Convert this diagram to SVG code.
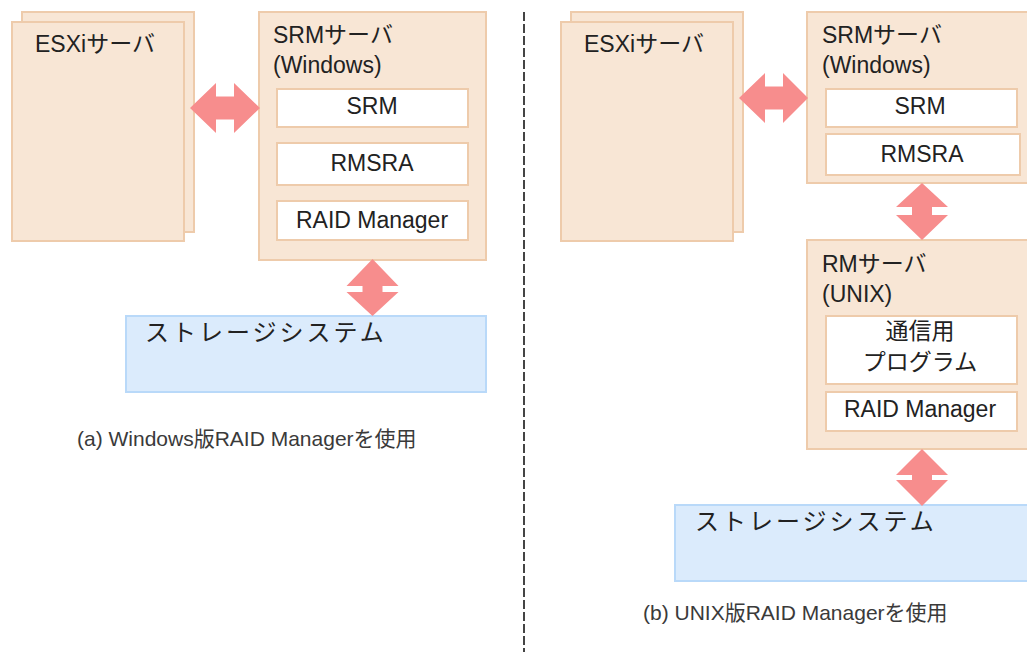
<svg xmlns="http://www.w3.org/2000/svg" width="1027" height="652" viewBox="0 0 1027 652">
<style>
.srv{fill:#f8e6d5;stroke:#eecbab;stroke-width:2}
.inner{fill:#ffffff;stroke:#eecbab;stroke-width:2}
.stor{fill:#dbebfc;stroke:#b9d9f9;stroke-width:2}
.arrow{fill:#f78d8d;stroke:none}
.t{font-family:"Liberation Sans","Noto Sans CJK JP",sans-serif;font-size:23px;fill:#222222}
.c{text-anchor:middle}
.st{font-family:"Liberation Sans","Noto Sans CJK JP",sans-serif;font-size:24px;letter-spacing:3px;fill:#222222}
.cap{font-family:"Liberation Sans","Noto Sans CJK JP",sans-serif;font-size:21px;fill:#3a3a3a}
.div{stroke:#444444;stroke-width:2;stroke-dasharray:9 3;fill:none}
</style>
<rect width="1027" height="652" fill="#ffffff"/>
<line class="div" x1="524" y1="12" x2="524" y2="652"/>

<!-- (a) -->
<g id="a-esxi">
<rect class="srv" x="22" y="12" width="172" height="220"/>
<rect class="srv" x="12" y="22" width="172" height="219"/>
<text class="t" x="35" y="52">ESXiサーバ</text>
</g>
<g id="a-srm-server">
<rect class="srv" x="259" y="12" width="227" height="248"/>
<text class="t" x="273" y="43">SRMサーバ</text>
<text class="t" x="273" y="73">(Windows)</text>
</g>
<g id="a-srm">
<rect class="inner" x="277" y="89" width="191" height="38"/>
<text class="t c" x="372" y="114">SRM</text>
</g>
<g id="a-rmsra">
<rect class="inner" x="277" y="143" width="191" height="42"/>
<text class="t c" x="372" y="171">RMSRA</text>
</g>
<g id="a-raid">
<rect class="inner" x="277" y="201" width="191" height="39"/>
<text class="t c" x="372" y="228">RAID Manager</text>
</g>
<g id="a-storage">
<rect class="stor" x="126" y="316" width="360" height="76"/>
<text class="st" x="145" y="341">ストレージシステム</text>
</g>
<g id="a-caption">
<text class="cap" x="77" y="446">(a) Windows版RAID Managerを使用</text>
</g>

<!-- (b) -->
<g id="b-esxi">
<rect class="srv" x="571" y="12" width="172" height="220"/>
<rect class="srv" x="561" y="22" width="172" height="219"/>
<text class="t" x="584" y="52">ESXiサーバ</text>
</g>
<g id="b-srm-server">
<rect class="srv" x="807" y="12" width="230" height="171"/>
<text class="t" x="822" y="43">SRMサーバ</text>
<text class="t" x="822" y="73">(Windows)</text>
</g>
<g id="b-srm">
<rect class="inner" x="826" y="89" width="191" height="38"/>
<text class="t c" x="920" y="114">SRM</text>
</g>
<g id="b-rmsra">
<rect class="inner" x="826" y="134" width="194" height="41"/>
<text class="t c" x="922" y="162">RMSRA</text>
</g>
<g id="b-rm-server">
<rect class="srv" x="807" y="240" width="230" height="209"/>
<text class="t" x="822" y="272">RMサーバ</text>
<text class="t" x="822" y="302">(UNIX)</text>
</g>
<g id="b-comm">
<rect class="inner" x="826" y="316" width="191" height="68"/>
<text class="t c" x="920" y="339">通信用</text>
<text class="t c" x="920" y="370">プログラム</text>
</g>
<g id="b-raid">
<rect class="inner" x="826" y="392" width="191" height="39"/>
<text class="t c" x="920" y="417">RAID Manager</text>
</g>
<g id="b-storage">
<rect class="stor" x="675" y="505" width="360" height="76"/>
<text class="st" x="695" y="530">ストレージシステム</text>
</g>
<g id="b-caption">
<text class="cap" x="643" y="620">(b) UNIX版RAID Managerを使用</text>
</g>

<g id="connectors">
<path class="arrow" d="M190,108 L216,83 L216,96.5 L234,96.5 L234,83 L260,108 L234,133 L234,119.5 L216,119.5 L216,133 Z"/>
<path class="arrow" d="M372.5,259 L398.5,286 L382.5,286 L382.5,292 L398.5,292 L372.5,316 L346.5,292 L362.5,292 L362.5,286 L346.5,286 Z"/>
<path class="arrow" d="M739,98 L765,73 L765,86.5 L783,86.5 L783,73 L808,98 L783,123 L783,109.5 L765,109.5 L765,123 Z"/>
<path class="arrow" d="M922,183 L948,207 L932,207 L932,215 L948,215 L922,240 L896,215 L912,215 L912,207 L896,207 Z"/>
<path class="arrow" d="M922,449 L948,475 L932,475 L932,480 L948,480 L922,506 L896,480 L912,480 L912,475 L896,475 Z"/>
</g>
</svg>
